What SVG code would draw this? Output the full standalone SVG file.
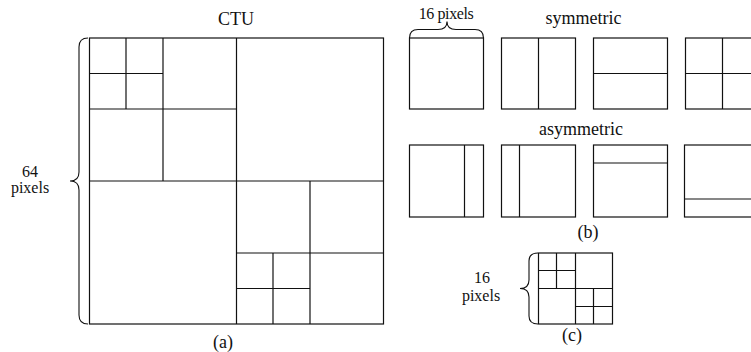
<svg xmlns="http://www.w3.org/2000/svg" width="751" height="352" viewBox="0 0 751 352">
<style>
text{font-family:'Liberation Serif','DejaVu Serif',serif;fill:#111;text-anchor:middle}
.box{fill:none;stroke:#111;stroke-width:1.2}
.ln{stroke:#111;stroke-width:1.2;fill:none}
.br{fill:none;stroke:#111;stroke-width:1.1}
</style>
<rect width="751" height="352" fill="#fff"/>
<g id="ctu">
<text x="236" y="25" font-size="18">CTU</text>
<rect class="box" x="89.5" y="38" width="294" height="286"/>
<line class="ln" x1="236.5" y1="38" x2="236.5" y2="324"/>
<line class="ln" x1="89.5" y1="181" x2="383.5" y2="181"/>
<line class="ln" x1="163" y1="38" x2="163" y2="181"/>
<line class="ln" x1="89.5" y1="109" x2="236.5" y2="109"/>
<line class="ln" x1="126" y1="38" x2="126" y2="109"/>
<line class="ln" x1="89.5" y1="73.5" x2="163" y2="73.5"/>
<line class="ln" x1="310" y1="181" x2="310" y2="324"/>
<line class="ln" x1="236.5" y1="253" x2="383.5" y2="253"/>
<line class="ln" x1="273" y1="253" x2="273" y2="324"/>
<line class="ln" x1="236.5" y1="288.5" x2="310" y2="288.5"/>
<path class="br" d="M88,38 Q79,38 79,47 L79,172 Q79,181 70,181 Q79,181 79,190 L79,315 Q79,324 88,324"/>
<text x="30" y="177" font-size="16">64</text>
<text x="30" y="193" font-size="16">pixels</text>
<text x="223" y="348" font-size="18">(a)</text>
</g>
<g id="partitions">
<path class="br" d="M409.5,38 Q409.5,29.5 418,29.5 L438,29.5 Q447,29.5 447,21.5 Q447,29.5 456,29.5 L475,29.5 Q483.5,29.5 483.5,38"/>
<text x="446" y="19" font-size="16" letter-spacing="-0.4">16 pixels</text>
<text x="583.5" y="24" font-size="18">symmetric</text>
<rect class="box" x="409.5" y="38" width="74" height="71"/>
<rect class="box" x="501.5" y="38" width="74" height="71"/>
<line class="ln" x1="538.5" y1="38" x2="538.5" y2="109"/>
<rect class="box" x="593.5" y="38" width="74" height="71"/>
<line class="ln" x1="593.5" y1="73.5" x2="667.5" y2="73.5"/>
<rect class="box" x="685.5" y="38" width="74" height="71"/>
<line class="ln" x1="722.5" y1="38" x2="722.5" y2="109"/>
<line class="ln" x1="685.5" y1="73.5" x2="759.5" y2="73.5"/>
<text x="581" y="135" font-size="18">asymmetric</text>
<rect class="box" x="409.5" y="145" width="74" height="72"/>
<line class="ln" x1="464.5" y1="145" x2="464.5" y2="217"/>
<rect class="box" x="501.5" y="145" width="74" height="72"/>
<line class="ln" x1="519.5" y1="145" x2="519.5" y2="217"/>
<rect class="box" x="593.5" y="145" width="74" height="72"/>
<line class="ln" x1="593.5" y1="163" x2="667.5" y2="163"/>
<rect class="box" x="684.5" y="145" width="74" height="72"/>
<line class="ln" x1="684.5" y1="199" x2="758.5" y2="199"/>
<text x="588" y="238" font-size="18">(b)</text>
</g>
<g id="cu16">
<rect class="box" x="538.5" y="253" width="74" height="71"/>
<line class="ln" x1="575.5" y1="253" x2="575.5" y2="324"/>
<line class="ln" x1="538.5" y1="288.5" x2="612.5" y2="288.5"/>
<line class="ln" x1="556.5" y1="253" x2="556.5" y2="288.5"/>
<line class="ln" x1="538.5" y1="270.5" x2="575.5" y2="270.5"/>
<line class="ln" x1="593.5" y1="288.5" x2="593.5" y2="324"/>
<line class="ln" x1="575.5" y1="306.5" x2="612.5" y2="306.5"/>
<path class="br" d="M538,253 Q529,253 529,261 L529,280 Q529,288.5 520,288.5 Q529,288.5 529,297 L529,316 Q529,324 538,324"/>
<text x="482" y="283" font-size="16">16</text>
<text x="481" y="301" font-size="16">pixels</text>
<text x="572" y="341" font-size="18">(c)</text>
</g>
</svg>
